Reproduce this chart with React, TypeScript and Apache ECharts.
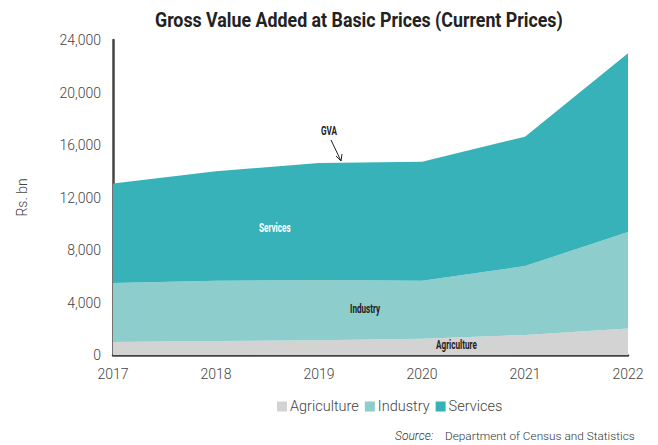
import React, { useEffect, useRef } from "react";
import * as echarts from "echarts";

const years = ["2017", "2018", "2019", "2020", "2021", "2022"];
const agriculture = [1000, 1060, 1120, 1240, 1530, 2010];
const industry = [4480, 4600, 4590, 4420, 5250, 7360];
const services = [7580, 8340, 8910, 9070, 9850, 13630];
const yTicks = [0, 4000, 8000, 12000, 16000, 20000, 24000];

const BOLD = "bold 12px Roboto, sans-serif";

export default function App() {
  const ref = useRef<HTMLDivElement>(null);
  useEffect(() => {
    if (!ref.current) return;
    const chart = echarts.init(ref.current, undefined, { renderer: "svg" });
    const mk = (name: string, data: number[], color: string) => ({
      name,
      type: "line",
      stack: "gva",
      data,
      symbol: "none",
      lineStyle: { width: 0 },
      areaStyle: { color, opacity: 1 },
      itemStyle: { color },
      z: 2,
    });
    const label = (text: string, x: number, y: number, fill: string) => ({
      type: "text",
      x,
      y,
      scaleX: 0.68,
      z: 10,
      style: { text, fill, font: BOLD, textVerticalAlign: "middle" },
    });
    chart.setOption({
      animation: false,
      textStyle: { fontFamily: "Roboto, sans-serif" },
      grid: { left: 113, right: 30, top: 40, bottom: 90 },
      legend: {
        bottom: 26,
        left: 272,
        itemWidth: 10,
        itemHeight: 10,
        itemGap: 6,
        icon: "rect",
        data: ["Agriculture", "Industry", "Services"],
        textStyle: { fontSize: 14.5, fontWeight: 300, color: "#444", fontFamily: "Roboto, sans-serif", padding: [0, 0, 0, -2] },
      },
      xAxis: {
        type: "category",
        data: years,
        boundaryGap: false,
        axisLine: { lineStyle: { color: "#444", width: 2.5 } },
        axisTick: { show: false },
        axisLabel: { color: "#444", fontSize: 14, fontWeight: 300, margin: 12 },
      },
      yAxis: {
        type: "value",
        min: yTicks[0],
        max: yTicks[yTicks.length - 1],
        interval: 4000,
        name: "Rs. bn",
        nameLocation: "middle",
        nameGap: 84,
        nameTextStyle: { color: "#444", fontSize: 14, fontWeight: 300 },
        splitLine: { show: false },
        axisLine: { show: true, lineStyle: { color: "#444", width: 2.5 } },
        axisTick: { show: false },
        axisLabel: {
          color: "#444",
          fontSize: 14,
          fontWeight: 300,
          margin: 12,
          formatter: (v: number) => v.toLocaleString("en-US"),
        },
      },
      series: [
        mk("Agriculture", agriculture, "#d3d3d3"),
        mk("Industry", industry, "#8dcdcb"),
        mk("Services", services, "#36b2b8"),
      ],
      graphic: [
        {
          type: "text",
          x: 155,
          y: 20,
          scaleX: 0.89,
          z: 10,
          style: {
            text: "Gross Value Added at Basic Prices (Current Prices)",
            fill: "#222",
            font: "bold 20px Roboto, sans-serif",
            textVerticalAlign: "middle",
          },
        },
        label("Services", 259, 228, "#fff"),
        label("Industry", 350, 309, "#222"),
        label("Agriculture", 436, 345, "#222"),
        label("GVA", 321, 131, "#222"),
        { type: "line", shape: { x1: 331, y1: 140, x2: 341, y2: 161 }, style: { stroke: "#222", lineWidth: 1 }, z: 10 },
        { type: "polyline", shape: { points: [[336, 156], [341, 161], [342, 154]] }, style: { stroke: "#222", lineWidth: 1, fill: "none" }, z: 10 },
        { type: "text", left: 395, top: 430, style: { text: "Source:", fill: "#333", font: "italic 300 12px Roboto, sans-serif" }, z: 10 },
        { type: "text", left: 445, top: 430, style: { text: "Department of Census and Statistics", fill: "#333", font: "300 11.8px Roboto, sans-serif" }, z: 10 },
      ],
    });
    return () => chart.dispose();
  }, []);
  return <div ref={ref} style={{ width: 658, height: 445, position: "absolute", left: 0, top: 0 }} />;
}
